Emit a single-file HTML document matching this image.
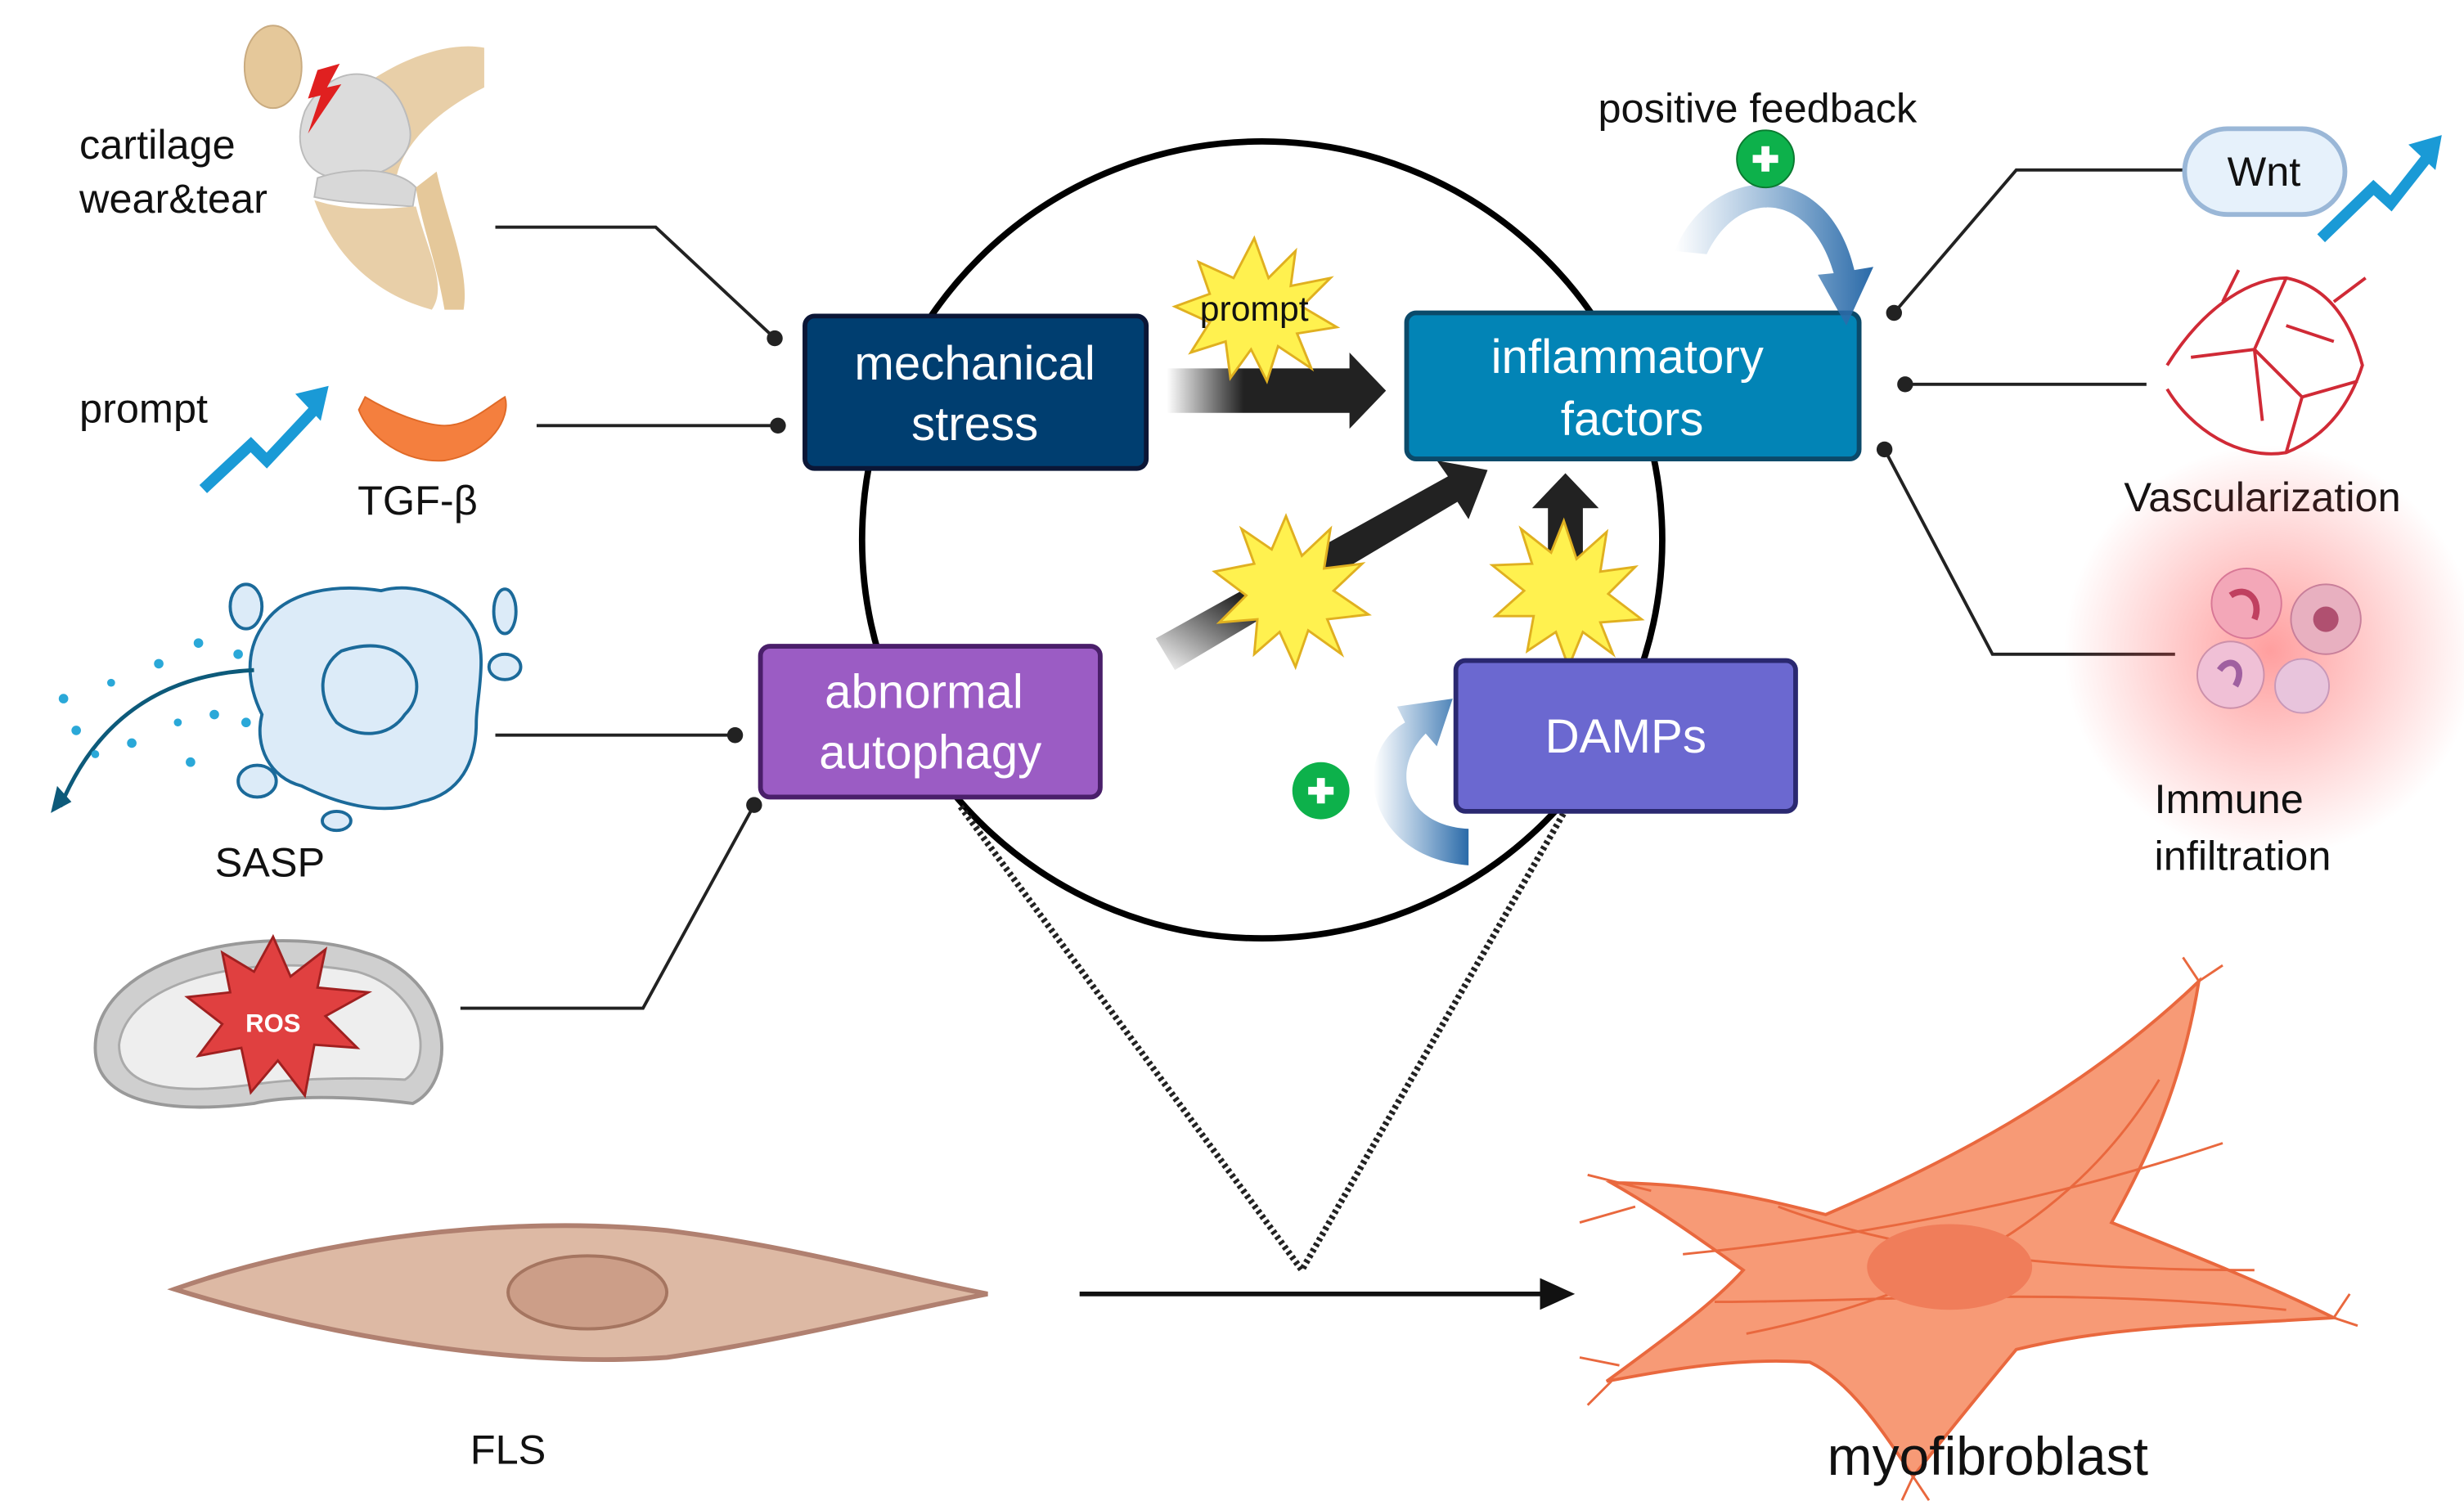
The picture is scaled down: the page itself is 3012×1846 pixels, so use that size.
<!DOCTYPE html>
<html><head><meta charset="utf-8"><style>
html,body{margin:0;padding:0;background:#fff;}
svg{display:block;}
text{font-family:"Liberation Sans",sans-serif;}
</style></head><body>
<svg width="3012" height="1846" viewBox="0 0 1552 951" xmlns="http://www.w3.org/2000/svg">
<defs>
<linearGradient id="gh" x1="0" x2="1"><stop offset="0" stop-color="#222" stop-opacity="0"/><stop offset="0.35" stop-color="#222"/><stop offset="1" stop-color="#222"/></linearGradient>
<linearGradient id="gd" x1="0" y1="1" x2="1" y2="0"><stop offset="0" stop-color="#222" stop-opacity="0"/><stop offset="0.3" stop-color="#222"/><stop offset="1" stop-color="#222"/></linearGradient>
<linearGradient id="gb" x1="0" x2="1"><stop offset="0" stop-color="#3a7ab8" stop-opacity="0"/><stop offset="1" stop-color="#2a6aa8"/></linearGradient>
<radialGradient id="glow"><stop offset="0" stop-color="#ff5050" stop-opacity="0.55"/><stop offset="1" stop-color="#ff5050" stop-opacity="0"/></radialGradient>
</defs>
<rect width="1552" height="951" fill="#fff"/>

<ellipse cx="795" cy="340" rx="252" ry="251" fill="none" stroke="#000" stroke-width="4"/>

<polyline points="605,508 820,800 985,512" fill="none" stroke="#222" stroke-width="4" stroke-dasharray="2,2"/>

<line x1="680" y1="815" x2="975" y2="815" stroke="#111" stroke-width="3"/>
<path d="M970,805 L992,815 L970,825 Z" fill="#111"/>

<g stroke="#222" stroke-width="2" fill="none">
<polyline points="312,143 413,143 488,213"/>
<line x1="338" y1="268" x2="490" y2="268"/>
<line x1="312" y1="463" x2="463" y2="463"/>
<polyline points="290,635 405,635 475,507"/>
<polyline points="1193,197 1270,107 1375,107"/>
<line x1="1200" y1="242" x2="1352" y2="242"/>
<polyline points="1187,283 1255,412 1370,412"/>
</g>
<g fill="#222">
<circle cx="488" cy="213" r="5"/><circle cx="490" cy="268" r="5"/><circle cx="463" cy="463" r="5"/><circle cx="475" cy="507" r="5"/>
<circle cx="1193" cy="197" r="5"/><circle cx="1200" cy="242" r="5"/><circle cx="1187" cy="283" r="5"/>
</g>

<path d="M735,232 L850,232 L850,222 L873,246 L850,270 L850,260 L735,260 Z" fill="url(#gh)"/>
<path d="M728,402 L912,300 L905,290 L937,296 L925,327 L918,316 L740,422 Z" fill="url(#gd)"/>
<path d="M975,395 L975,320 L965,320 L986,298 L1007,320 L997,320 L997,395 Z" fill="#222"/>

<g fill="#fff14f" stroke="#e0b020" stroke-width="1.5">
<polygon points="790,150 799,175 816,158 813,180 838,175 820,193 842,206 817,210 826,232 805,218 798,240 788,220 775,238 772,215 750,222 762,203 740,193 762,185 755,165 777,175"/>
<polygon points="810,325 820,350 838,333 834,358 858,355 840,372 862,387 836,390 845,412 824,397 816,420 806,398 790,412 792,390 768,392 785,375 765,360 790,355 782,333 801,346"/>
<polygon points="985,328 993,352 1012,335 1008,360 1030,357 1013,374 1034,390 1008,392 1016,412 997,398 988,420 980,398 962,410 966,388 942,388 960,372 940,356 965,355 958,333 977,348"/>
</g>
<text x="790" y="202" font-size="22" text-anchor="middle" fill="#111">prompt</text>

<rect x="507" y="199" width="215" height="96" rx="6" fill="#003e70" stroke="#0b1636" stroke-width="3"/>
<text x="614" y="239" font-size="30" fill="#fff" text-anchor="middle">mechanical</text>
<text x="614" y="277" font-size="30" fill="#fff" text-anchor="middle">stress</text>
<rect x="886" y="197" width="285" height="92" rx="6" fill="#0284b6" stroke="#0b4a6a" stroke-width="3"/>
<text x="1025" y="235" font-size="30" fill="#fff" text-anchor="middle">inflammatory</text>
<text x="1028" y="274" font-size="30" fill="#fff" text-anchor="middle">factors</text>
<rect x="479" y="407" width="214" height="95" rx="6" fill="#9b5cc4" stroke="#4a1f6a" stroke-width="3"/>
<text x="582" y="446" font-size="30" fill="#fff" text-anchor="middle">abnormal</text>
<text x="586" y="484" font-size="30" fill="#fff" text-anchor="middle">autophagy</text>
<rect x="917" y="416" width="214" height="95" rx="6" fill="#6b68d0" stroke="#2a2870" stroke-width="3"/>
<text x="1024" y="474" font-size="30" fill="#fff" text-anchor="middle">DAMPs</text>

<text x="1107" y="77" font-size="26" fill="#111" text-anchor="middle">positive feedback</text>
<path d="M1055,158 C1075,105 1150,95 1168,170 L1180,168 L1163,205 L1145,173 L1155,172 C1140,120 1095,118 1075,160 Z" fill="url(#gb)"/>
<circle cx="1112" cy="100" r="18" fill="#0db14b" stroke="#0a7a30" stroke-width="1"/>
<path d="M1104,100 H1120 M1112,92 V108" stroke="#fff" stroke-width="5"/>
<path d="M925,545 C860,540 850,475 885,455 L880,445 L915,440 L905,470 L898,462 C875,485 885,520 925,522 Z" fill="url(#gb)"/>
<circle cx="832" cy="498" r="18" fill="#0db14b"/>
<path d="M824,498 H840 M832,490 V506" stroke="#fff" stroke-width="5"/>

<text x="50" y="100" font-size="26" fill="#111">cartilage</text>
<text x="50" y="134" font-size="26" fill="#111">wear&amp;tear</text>
<text x="50" y="266" font-size="26" fill="#111">prompt</text>
<text x="263" y="324" font-size="26" fill="#111" text-anchor="middle">TGF-β</text>
<text x="170" y="552" font-size="26" fill="#111" text-anchor="middle">SASP</text>
<text x="320" y="922" font-size="26" fill="#111" text-anchor="middle">FLS</text>

<!-- knee -->
<path d="M210,70 C240,40 280,25 305,30 L305,55 C275,70 255,90 250,110 L215,110 Z" fill="#e8cfa8"/>
<ellipse cx="172" cy="42" rx="18" ry="26" fill="#e5c89a" stroke="#c9ab80"/>
<path d="M192,70 C210,35 250,40 258,80 C262,100 240,115 210,112 C190,108 185,90 192,70 Z" fill="#dcdcdc" stroke="#bbb"/>
<path d="M200,112 C220,105 250,105 262,118 L260,130 C235,128 215,128 198,124 Z" fill="#d8d8d8" stroke="#bbb"/>
<path d="M198,126 C225,135 255,130 262,130 C270,160 282,180 272,195 C235,185 210,160 198,126 Z" fill="#e8cfa8"/>
<path d="M262,118 L275,108 C282,140 296,170 292,195 L280,195 C275,165 265,140 262,118 Z" fill="#e5c89a"/>
<polygon points="200,44 214,40 206,55 215,53 194,84 202,60 194,62" fill="#e02020"/>

<polyline points="128,308 158,280 168,290 198,258" fill="none" stroke="#1a9ad6" stroke-width="7"/>
<path d="M186,248 L207,243 L202,265 Z" fill="#1a9ad6"/>
<polyline points="1462,150 1495,118 1506,128 1528,100" fill="none" stroke="#1a9ad6" stroke-width="7"/>
<path d="M1517,91 L1538,85 L1534,107 Z" fill="#1a9ad6"/>

<path d="M230,250 C250,262 270,268 280,268 C295,268 305,258 318,250 C322,262 310,285 280,290 C255,292 232,275 226,258 Z" fill="#f47f3e" stroke="#e06a28"/>

<path d="M165,395 C180,370 215,368 240,372 C265,365 290,380 298,395 C308,410 300,440 300,455 C300,480 290,500 265,505 C240,515 210,505 190,495 C170,490 160,470 165,450 C155,430 155,410 165,395 Z" fill="#dcebf8" stroke="#1b6a9a" stroke-width="2"/>
<path d="M215,410 C230,405 245,405 255,415 C265,425 265,440 255,450 C245,465 225,465 212,455 C200,440 200,420 215,410 Z" fill="none" stroke="#1b6a9a" stroke-width="2"/>
<ellipse cx="155" cy="382" rx="10" ry="14" fill="#dcebf8" stroke="#1b6a9a" stroke-width="2"/>
<ellipse cx="318" cy="385" rx="7" ry="14" fill="#dcebf8" stroke="#1b6a9a" stroke-width="2"/>
<ellipse cx="318" cy="420" rx="10" ry="8" fill="#dcebf8" stroke="#1b6a9a" stroke-width="2"/>
<ellipse cx="162" cy="492" rx="12" ry="10" fill="#dcebf8" stroke="#1b6a9a" stroke-width="2"/>
<ellipse cx="212" cy="517" rx="9" ry="6" fill="#dcebf8" stroke="#1b6a9a" stroke-width="2"/>
<path d="M160,422 C100,425 60,455 38,508" fill="none" stroke="#0d5a7a" stroke-width="2.5"/>
<path d="M32,512 L36,495 L45,505 Z" fill="#0d5a7a"/>
<g fill="#2aa8d8"><circle cx="40" cy="440" r="3"/><circle cx="70" cy="430" r="2.5"/><circle cx="100" cy="418" r="3"/><circle cx="125" cy="405" r="3"/><circle cx="83" cy="468" r="3"/><circle cx="112" cy="455" r="2.5"/><circle cx="150" cy="412" r="3"/><circle cx="60" cy="475" r="2.5"/><circle cx="135" cy="450" r="3"/><circle cx="48" cy="460" r="3"/><circle cx="120" cy="480" r="3"/><circle cx="155" cy="455" r="3"/></g>

<path d="M60,660 C60,600 170,580 230,600 C285,615 290,680 260,695 C220,690 180,690 160,695 C120,700 60,700 60,660 Z" fill="#cfcfcf" stroke="#999" stroke-width="2"/>
<path d="M75,658 C80,615 165,600 225,612 C270,625 272,670 255,680 C215,678 180,680 160,683 C120,688 75,690 75,658 Z" fill="#eee" stroke="#aaa" stroke-width="1.5"/>
<polygon points="172,590 183,615 205,598 200,622 232,625 205,640 225,660 198,658 192,690 175,668 158,688 152,660 125,665 140,645 118,628 145,625 140,600 160,612" fill="#e04040" stroke="#a02020" stroke-width="1.5"/>
<text x="172" y="650" font-size="16" font-weight="bold" fill="#fff" text-anchor="middle">ROS</text>

<path d="M110,812 C200,780 320,765 420,775 C500,785 570,805 622,815 C570,825 490,845 420,855 C320,862 200,840 110,812 Z" fill="#ddb9a4" stroke="#b08070" stroke-width="3"/>
<ellipse cx="370" cy="814" rx="50" ry="23" fill="#cc9e88" stroke="#a57560" stroke-width="2"/>

<!-- myofibroblast -->
<path d="M1015,745 C1070,745 1110,755 1150,765 C1220,735 1310,690 1385,618 C1375,680 1355,725 1330,770 C1380,790 1430,810 1470,830 C1390,835 1330,835 1270,850 C1245,880 1225,905 1205,930 C1185,900 1165,870 1140,858 C1095,855 1055,862 1012,870 C1050,842 1078,822 1098,800 C1070,780 1045,762 1015,745 Z" fill="#f79a76" stroke="#e9683e" stroke-width="2"/>
<g stroke="#e9683e" stroke-width="1.5" fill="none">
<path d="M1040,750 L1000,740 M1030,760 L995,770 M1020,860 L995,855 M1015,870 L1000,885 M1385,618 L1375,603 M1385,618 L1400,608 M1470,830 L1485,835 M1470,830 L1480,815 M1205,930 L1198,945 M1205,930 L1215,945"/>
<path d="M1060,790 C1160,780 1280,760 1400,720 M1080,820 C1180,820 1300,810 1440,825 M1120,760 C1200,790 1300,800 1420,800 M1100,840 C1200,820 1300,780 1360,680"/>
</g>
<ellipse cx="1228" cy="798" rx="52" ry="27" fill="#f07d5a"/>
<text x="1252" y="929" font-size="34" fill="#111" text-anchor="middle">myofibroblast</text>

<rect x="1376" y="81" width="101" height="54" rx="27" fill="#e6f1fb" stroke="#9ab7d7" stroke-width="3"/>
<text x="1426" y="117" font-size="26" fill="#111" text-anchor="middle">Wnt</text>

<g stroke="#d02a36" stroke-width="2" fill="none">
<path d="M1365,230 C1390,190 1420,175 1440,175 C1465,180 1480,200 1488,230 C1480,255 1465,275 1440,285 C1410,290 1380,270 1365,245 M1440,175 L1420,220 L1450,250 M1420,220 L1380,225 M1450,250 L1440,285 M1450,250 L1485,240 M1400,190 L1410,170 M1470,190 L1490,175 M1420,220 L1425,265 M1440,205 L1470,215"/>
</g>
<text x="1425" y="322" font-size="26" fill="#111" text-anchor="middle">Vascularization</text>

<circle cx="1430" cy="410" r="130" fill="url(#glow)"/>
<circle cx="1415" cy="380" r="22" fill="#f3a7b8" stroke="#d87896"/>
<circle cx="1465" cy="390" r="22" fill="#e8b0c0" stroke="#c87f9a"/>
<circle cx="1405" cy="425" r="21" fill="#f0c0d6" stroke="#cc90aa"/>
<circle cx="1450" cy="432" r="17" fill="#e8c4dc" stroke="#c898b8"/>
<path d="M1405,375 C1415,368 1425,378 1420,390" stroke="#c04060" stroke-width="4" fill="none"/>
<circle cx="1465" cy="390" r="8" fill="#b05070"/>
<path d="M1398,422 C1405,412 1415,420 1408,432" stroke="#a060a0" stroke-width="4" fill="none"/>
<text x="1357" y="512" font-size="26" fill="#111">Immune</text>
<text x="1357" y="548" font-size="26" fill="#111">infiltration</text>
</svg>
</body></html>
